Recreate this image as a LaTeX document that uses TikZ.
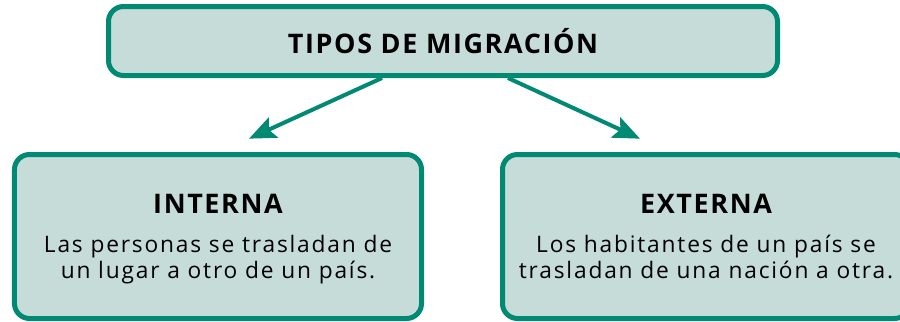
\documentclass[tikz,border=0pt]{standalone}
\usepackage{fontspec}
\setmainfont{Open Sans}
\usetikzlibrary{arrows.meta}
\definecolor{verde}{RGB}{0,137,115}
\definecolor{verdeclaro}{RGB}{198,220,217}
\tikzstyle{caja}=[draw=verde, fill=verdeclaro, line width=0.15cm, rounded corners=0.45cm, align=center, inner sep=0pt]
\tikzstyle{flecha}=[draw=verde, line width=0.12cm, -{Stealth[length=0.8cm, width=0.66cm, inset=0.15cm]}]
\newcommand{\titulo}{\fontsize{23}{28}\selectfont\bfseries\addfontfeature{LetterSpace=6}}
\newcommand{\texto}{\fontsize{19.4}{22}\selectfont\addfontfeature{LetterSpace=8}}

\begin{document}
\begin{tikzpicture}
  \useasboundingbox (0,0) rectangle (27,-9.63);
  \node[caja, minimum width=20.07cm, minimum height=2.07cm] (tipos) at (13.29,-1.23) {\titulo TIPOS DE MIGRACIÓN};
  \node[caja, minimum width=12.21cm, minimum height=4.92cm, font=\texto] (interna) at (6.54,-7.095)
    {{\titulo\rule{0pt}{23pt}INTERNA}\\[0.4cm] Las personas se trasladan de\\ un lugar a otro de un país.\strut};
  \node[caja, minimum width=12.21cm, minimum height=4.92cm, font=\texto] (externa) at (21.18,-7.095)
    {{\titulo\rule{0pt}{23pt}EXTERNA}\\[0.4cm] Los habitantes de un país se\\ trasladan de una nación a otra.\strut};
  \draw[flecha] ([xshift=-1.83cm]tipos.south) -- ([xshift=0.93cm, yshift=0.4cm]interna.north);
  \draw[flecha] ([xshift=1.95cm]tipos.south) -- ([xshift=-1.98cm, yshift=0.4cm]externa.north);
\end{tikzpicture}
\end{document}
